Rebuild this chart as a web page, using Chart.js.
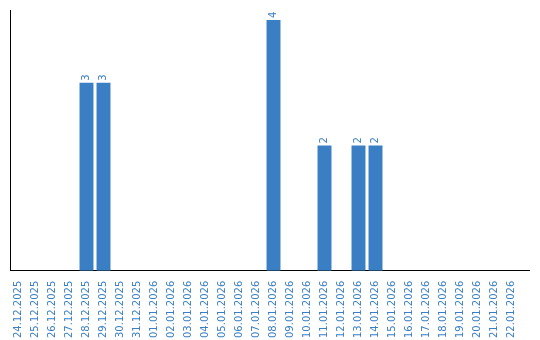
<!DOCTYPE html>
<html>
<head>
<meta charset="utf-8">
<script src="https://cdn.jsdelivr.net/npm/chart.js@4"></script>
<style>
  html, body { margin: 0; padding: 0; background: #fff; }
  #wrap { width: 540px; height: 340px; }
</style>
</head>
<body>
<div id="wrap"><canvas id="chart" width="540" height="340"></canvas></div>
<script>
const dates = [
  '24.12.2025', '25.12.2025', '26.12.2025', '27.12.2025', '28.12.2025', '29.12.2025',
  '30.12.2025', '31.12.2025', '01.01.2026', '02.01.2026', '03.01.2026', '04.01.2026',
  '05.01.2026', '06.01.2026', '07.01.2026', '08.01.2026', '09.01.2026', '10.01.2026',
  '11.01.2026', '12.01.2026', '13.01.2026', '14.01.2026', '15.01.2026', '16.01.2026',
  '17.01.2026', '18.01.2026', '19.01.2026', '20.01.2026', '21.01.2026', '22.01.2026'
];
const counts = [
  0, 0, 0, 0, 3, 3,
  0, 0, 0, 0, 0, 0,
  0, 0, 0, 4, 0, 0,
  2, 0, 2, 2, 0, 0,
  0, 0, 0, 0, 0, 0
];

const BLUE = '#3a7ec3';
const FONT = { family: 'DejaVu Sans', size: 10 };

// value labels above bars, rotated like the axis labels
const barLabels = {
    id: 'barLabels',
    afterDatasetsDraw(chart) {
        const ctx = chart.ctx;
        const meta = chart.getDatasetMeta(0);
        ctx.save();
        ctx.fillStyle = BLUE;
        ctx.font = FONT.size + 'px ' + FONT.family;
        ctx.textAlign = 'left';
        ctx.textBaseline = 'middle';
        meta.data.forEach((bar, i) => {
            const v = counts[i];
            if (!v) return;
            ctx.save();
            ctx.translate(bar.x, bar.y - 2);
            ctx.rotate(-Math.PI / 2);
            ctx.fillText(String(v), 0, 0);
            ctx.restore();
        });
        ctx.restore();
    }
};

// the bottom axis line runs a bit past the last category
const axisTail = {
    id: 'axisTail',
    afterDraw(chart) {
        const a = chart.chartArea;
        const ctx = chart.ctx;
        const y = Math.round(a.bottom - 0.5) + 0.5; // same snapping as chart.js borders
        ctx.save();
        ctx.strokeStyle = '#000';
        ctx.lineWidth = 1;
        ctx.beginPath();
        ctx.moveTo(a.right - 1, y);
        ctx.lineTo(530, y);
        ctx.stroke();
        ctx.restore();
    }
};

new Chart(document.getElementById('chart').getContext('2d'), {
    type: 'bar',
    data: {
        labels: dates,
        datasets: [{
            data: counts,
            backgroundColor: BLUE,
            borderWidth: 0,
            barPercentage: 0.82,
            categoryPercentage: 1
        }]
    },
    options: {
        responsive: false,
        animation: false,
        layout: { padding: { top: 10, left: 2, right: 20, bottom: 0 } },
        plugins: {
            legend: { display: false },
            tooltip: { enabled: false }
        },
        scales: {
            x: {
                grid: { display: false },
                border: { display: true, color: '#000', width: 1 },
                ticks: {
                    color: BLUE,
                    font: FONT,
                    minRotation: 90,
                    maxRotation: 90,
                    autoSkip: false,
                    padding: 2
                }
            },
            y: {
                min: 0,
                max: 4.16,
                grid: { display: false },
                border: { display: true, color: '#000', width: 1 },
                ticks: { display: false }
            }
        }
    },
    plugins: [barLabels, axisTail]
});
</script>
</body>
</html>
